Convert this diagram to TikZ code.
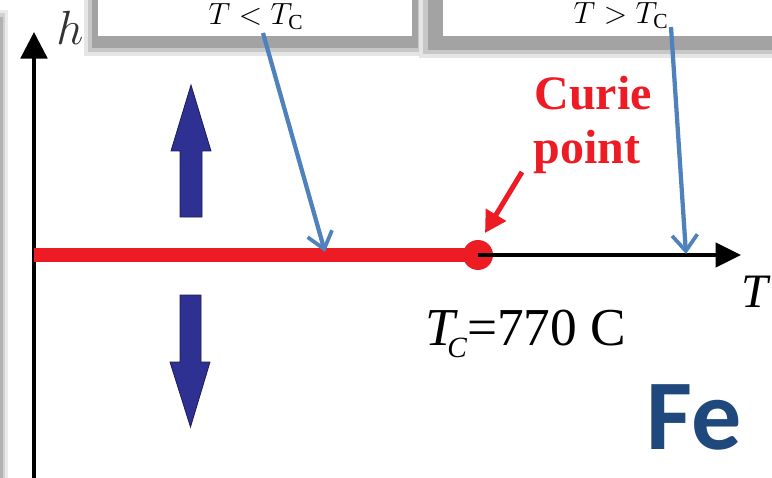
\documentclass[tikz,border=0pt]{standalone}
\usepackage{fix-cm}
\usepackage{fontspec}
\setmainfont{Liberation Serif}
\newfontfamily\calibri{Carlito}
\usetikzlibrary{arrows.meta}
\definecolor{cred}{HTML}{ED1C24}
\definecolor{cblue}{HTML}{4F81BD}
\definecolor{navy}{HTML}{2E3192}
\definecolor{fecol}{HTML}{1F497D}
\tikzset{
  shadowA/.style={fill=black!10},
  shadowB/.style={fill=black!22},
  shadowC/.style={fill=black!36},
  boxwhite/.style={fill=white},
  boxtext/.style={anchor=base, inner sep=0pt, font=\fontsize{23}{24}\selectfont},
  callout/.style={cblue, line width=3.2pt, -{Straight Barb[length=12pt,width=19pt,line width=2.8pt]}},
  bigarrow/.style={fill=navy, draw=navy!60!black, line width=0.6pt},
}
\begin{document}
\begin{tikzpicture}[x=0.75pt,y=-0.75pt]
\useasboundingbox (0,0) rectangle (772,478);
\clip (0,0) rectangle (772,478);
% left shadow stripe
\fill[black!8] (0,10) rectangle (8,478);
\fill[black!18] (0,13) rectangle (5,478);
\fill[black!30] (0,17) rectangle (3,478);
% box 1
\fill[shadowA] (84,-10) rectangle (426,56);
\fill[shadowB] (88,-10) rectangle (422,52);
\fill[shadowC] (92,-10) rectangle (418,48);
\fill[boxwhite] (98,-10) rectangle (412,36);
\node[boxtext] (lt) at (256,25) {$T<T_{\mathrm{C}}$};
% box 2
\fill[shadowA] (419,-10) rectangle (790,58);
\fill[shadowB] (423,-10) rectangle (790,54);
\fill[shadowC] (428,-10) rectangle (790,50);
\fill[boxwhite] (443,-10) rectangle (790,36);
\node[boxtext] (gt) at (621,24) {$T>T_{\mathrm{C}}$};
% axes
\coordinate (o) at (34,480);
\coordinate (ytop) at (34,32);
\draw[line width=2.6pt, -{Triangle[length=20pt,width=20pt]}] (o) -- (ytop);
\node[anchor=base, inner sep=0pt, text=black!80, font=\fontsize{36}{36}\selectfont] (h) at (70,45) {$h$};
\coordinate (redstart) at (34,255);
\node[circle, fill=cred, inner sep=0pt, minimum size=22.5pt] (dot) at (478,255) {};
\coordinate (xend) at (741,255);
\draw[line width=3pt, -{Triangle[length=19pt,width=18pt]}] (dot.center) -- (xend);
\draw[cred, line width=10pt] (redstart) -- (dot.center);
\node[anchor=base west, inner sep=0pt, font=\fontsize{36}{36}\selectfont] (tl) at (741,307) {\textit{T}};
\node[anchor=base west, inner sep=0pt, font=\fontsize{40}{40}\selectfont] (tc) at (425,345)
  {\textit{T}\kern-0.2em\raisebox{-9.5pt}{\fontsize{22}{22}\selectfont\textit{C}}=770 C};
% Curie point
\node[anchor=base, inner sep=0pt, text=cred, font=\bfseries\fontsize{36}{36}\selectfont] (curie) at (593,110) {Curie};
\node[anchor=base, inner sep=0pt, text=cred, font=\bfseries\fontsize{36}{36}\selectfont] (point) at (587,163) {point};
\coordinate (cpstart) at (522,172);
\coordinate (cptip) at (485,233);
\draw[cred, line width=3.8pt, -{Triangle[length=16pt,width=17pt]}] (cpstart) -- (cptip);
% blue callouts
\coordinate (c1s) at (263,33);
\coordinate (c1e) at (325,252);
\coordinate (c2s) at (671,27);
\coordinate (c2e) at (686,254);
\draw[callout] (c1s) -- (c1e);
\draw[callout] (c2s) -- (c2e);
% big blue arrows
\draw[bigarrow] (180,217) -- (180,151) -- (171,151) -- (191,85) -- (211,151) -- (202,151) -- (202,217) -- cycle;
\draw[bigarrow] (180,295) -- (201,295) -- (201,362) -- (210,362) -- (190.5,427) -- (170,362) -- (180,362) -- cycle;
% Fe
\node[anchor=base, inner sep=0pt, text=fecol, font=\calibri\bfseries\fontsize{75}{75}\selectfont] (fe) at (694,449) {Fe};
\end{tikzpicture}
\end{document}
